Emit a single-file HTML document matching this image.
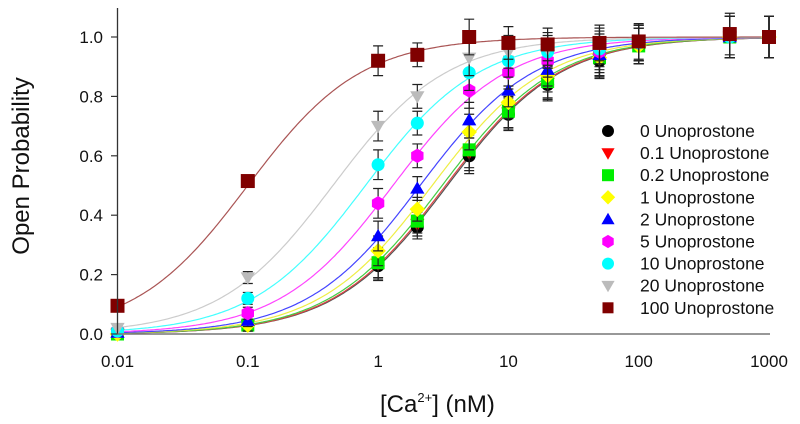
<!DOCTYPE html>
<html><head><meta charset="utf-8"><style>
body{margin:0;background:#fff;}
svg{display:block;font-family:"Liberation Sans",Arial,sans-serif;}
</style></head><body>
<svg id="chart" width="800" height="424" viewBox="0 0 800 424" xmlns="http://www.w3.org/2000/svg">
<g id="curves"></g>
<g id="points"></g>
<g id="axes"></g>
<g id="legend"></g>
<text x="0" y="0" transform="translate(29,166) rotate(-90)" text-anchor="middle" font-size="24" fill="#111">Open Probability</text>
<text x="380" y="412" font-size="24" fill="#111">[Ca<tspan font-size="13" dy="-10">2+</tspan><tspan dy="10">] (nM)</tspan></text>
</svg>
<script>
const xValues=[0.01,0.1,1,2,5,10,20,50,100,500,1000];
const seriesNames=["0 Unoprostone","0.1 Unoprostone","0.2 Unoprostone","1 Unoprostone","2 Unoprostone","5 Unoprostone","10 Unoprostone","20 Unoprostone","100 Unoprostone"];
const s0=[0,0.03,0.23,0.36,0.60,0.74,0.84,0.92,0.97,1.0,1.0];
const s01=[0,0.03,0.235,0.37,0.61,0.745,0.845,0.925,0.97,1,1];
const s02=[0,0.03,0.24,0.38,0.62,0.75,0.85,0.93,0.97,1,1];
const s1=[0,0.03,0.28,0.42,0.68,0.78,0.87,0.93,0.97,1,1];
const s2=[0.005,0.045,0.33,0.49,0.72,0.82,0.89,0.94,0.98,1,1];
const s5=[0.01,0.07,0.44,0.60,0.82,0.88,0.92,0.95,0.98,1,1];
const s10=[0.01,0.12,0.57,0.71,0.88,0.92,0.95,0.96,0.98,1,1];
const s20=[0.02,0.19,0.70,0.80,0.93,0.95,0.96,0.97,0.98,1,1];
const s100=[0.095,0.515,0.92,0.94,1.0,0.98,0.975,0.98,0.985,1.01,1.0];
const errors=[0.01,0.02,0.05,0.04,0.06,0.055,0.055,0.06,0.06,0.07,0.07];
const ec50s=[3.4,3.3,3.1,2.6,2.1,1.3,0.8,0.45,0.1];
const hillN=[1,1,1,1,1,1,1,1,1];
const yTicks=[0,0.2,0.4,0.6,0.8,1.0];
const xTicks=[0.01,0.1,1,10,100,1000];
const xTickLabels=["0.01","0.1","1","10","100","1000"];
const allSeries=[s0,s01,s02,s1,s2,s5,s10,s20,s100];
const colors=["#000","#f00","#0e0","#ff0","#00f","#f0f","#0ff","#bbb","#800000"];
const lineColors=["#555","#d44","#4c4","#ee4","#44f","#f4f","#4ff","#ccc","#a55"];
const shapes=["circle","tdown","square","diamond","tup","hex","circle","tdown","square"];
const NS="http://www.w3.org/2000/svg";
const X=v=>117.5+(Math.log10(v)+2)*130.3;
const Y=v=>334-v*297;
function mk(tag,attrs,parent){const e=document.createElementNS(NS,tag);for(const k in attrs)e.setAttribute(k,attrs[k]);parent.appendChild(e);return e;}
function marker(shape,cx,cy,r,fill,parent){
  let p;
  if(shape==="circle")p=mk("circle",{cx,cy,r,fill},parent);
  else if(shape==="square")p=mk("rect",{x:cx-r,y:cy-r,width:2*r,height:2*r,fill},parent);
  else{let pts;
    if(shape==="tdown")pts=[[cx-r*1.1,cy-r*0.8],[cx+r*1.1,cy-r*0.8],[cx,cy+r*1.1]];
    else if(shape==="tup")pts=[[cx-r*1.1,cy+r*0.8],[cx+r*1.1,cy+r*0.8],[cx,cy-r*1.1]];
    else if(shape==="diamond")pts=[[cx,cy-r*1.2],[cx+r*1.2,cy],[cx,cy+r*1.2],[cx-r*1.2,cy]];
    else{pts=[];for(let i=0;i<6;i++){const a=Math.PI/6+i*Math.PI/3;pts.push([cx+r*1.1*Math.cos(a),cy+r*1.1*Math.sin(a)]);}}
    p=mk("polygon",{points:pts.map(q=>q.join(",")).join(" "),fill},parent);}
  return p;
}
const curves=document.getElementById("curves"),points=document.getElementById("points"),axes=document.getElementById("axes"),legend=document.getElementById("legend");
allSeries.forEach((s,si)=>{
  let d="";
  for(let i=0;i<=300;i++){const lx=-2+5*i/300,x=Math.pow(10,lx);
    const y=Math.pow(x,hillN[si])/(Math.pow(x,hillN[si])+Math.pow(ec50s[si],hillN[si]));
    d+=(i?"L":"M")+X(x).toFixed(1)+","+Y(y).toFixed(1);}
  const c=mk("path",{d,fill:"none",stroke:lineColors[si],"stroke-width":1.2},curves);
  
  
});
allSeries.forEach((s,si)=>{
  const g=mk("g",{},points);
  
  
  s.forEach((v,i)=>{
    const cx=X(xValues[i]),cy=Y(v),e=errors[i]*297;
    if(e>4){
      const eb=mk("path",{d:`M${cx},${cy-e}V${cy+e}M${cx-5},${cy-e}H${cx+5}M${cx-5},${cy+e}H${cx+5}`,stroke:"#222","stroke-width":1.2,fill:"none"},g);
      
      
    }
    const m=marker(shapes[si],cx,cy,si===8?7:6.5,colors[si],g);
    
    
  });
});
let a=mk("line",{x1:117.5,y1:8,x2:117.5,y2:334,stroke:"#333","stroke-width":1.3},axes);


a=mk("line",{x1:117.5,y1:334,x2:770,y2:334,stroke:"#777","stroke-width":1.5},axes);


yTicks.forEach(t=>{
  const tk=mk("line",{x1:111,y1:Y(t),x2:117.5,y2:Y(t),stroke:"#333","stroke-width":1.2},axes);
  
  
  const tl=mk("text",{x:103,y:Y(t)+6,"text-anchor":"end","font-size":17,fill:"#111"},axes);
  tl.textContent=t.toFixed(1);
  
  
});
xTicks.forEach((t,i)=>{
  const tl=mk("text",{x:X(t),y:367,"text-anchor":"middle","font-size":17,fill:"#111"},axes);
  tl.textContent=xTickLabels[i];
  
  
});
seriesNames.forEach((n,i)=>{
  const y=131+22.1*i;
  const g=mk("g",{},legend);
  
  
  marker(shapes[i],608,y,i===8?5.5:6,colors[i],g);
  const t=mk("text",{x:640,y:y+6,"font-size":17.5,fill:"#111"},g);
  t.textContent=n;
});
</script>
</body></html>
